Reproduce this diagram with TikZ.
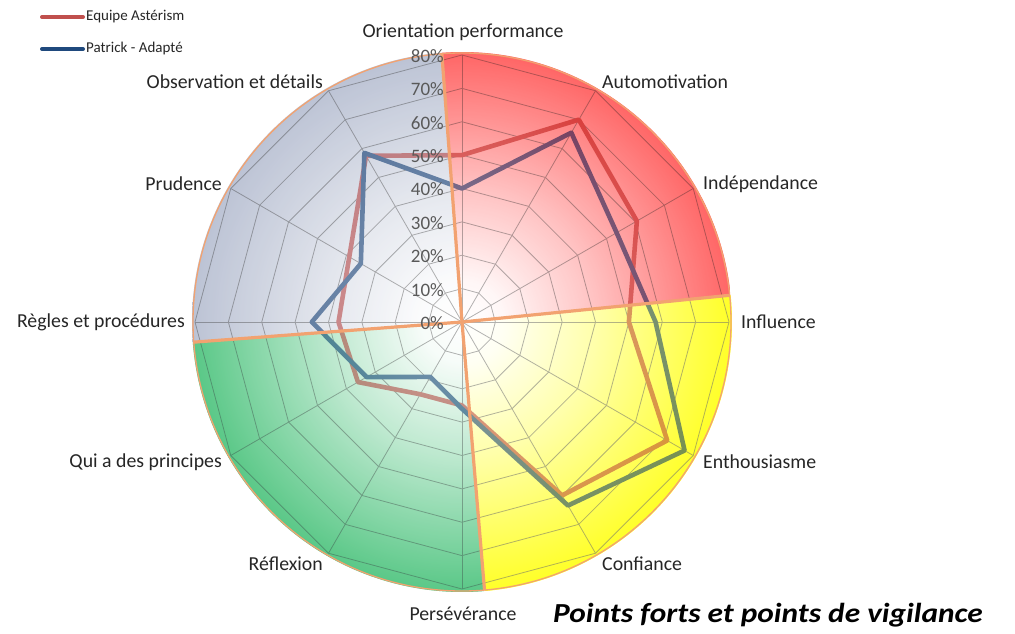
\documentclass[tikz,border=0pt]{standalone}
\usepackage{fontspec}
\setmainfont{Carlito}
\usetikzlibrary{calc}
\definecolor{serRed}{RGB}{192,80,77}
\definecolor{serBlue}{RGB}{31,73,125}
\definecolor{bndOrange}{RGB}{242,162,112}
\definecolor{gridGray}{RGB}{128,128,128}
\definecolor{pctGray}{RGB}{89,89,89}
\definecolor{lblGray}{RGB}{38,38,38}
% base colours (opaque layer)
\definecolor{bRed}{RGB}{255,170,170}
\definecolor{bYel}{RGB}{255,255,67}
\definecolor{bGrn}{RGB}{150,216,172}
\definecolor{bGry}{RGB}{214,219,231}
% overlay colours (translucent layer)
\definecolor{oRed}{RGB}{255,0,0}
\definecolor{oYel}{RGB}{255,255,0}
\definecolor{oGrn}{RGB}{0,176,80}
\definecolor{oGry}{RGB}{150,160,186}
\newcommand\mkshade[2]{%
  \colorlet{#1a}{#2!5!white}\colorlet{#1b}{#2!40!white}%
  \pgfdeclareradialshading{#1}{\pgfpoint{0bp}{0bp}}{color(0bp)=(white); color(3.75bp)=(#1a); color(12.5bp)=(#1b); color(25bp)=(#2); color(50bp)=(#2)}}
\mkshade{shbRed}{bRed}\mkshade{shbYel}{bYel}\mkshade{shbGrn}{bGrn}\mkshade{shbGry}{bGry}
\mkshade{shoRed}{oRed}\mkshade{shoYel}{oYel}\mkshade{shoGrn}{oGrn}\mkshade{shoGry}{oGry}
\newcommand\qsector[4]{% start, end, shading, options
  \begin{scope}
    \clip (C) -- ([shift={(C)}]#1:270) arc[start angle=#1,end angle=#2,radius=270] -- cycle;
    \shade[shading=#3,#4] (C) circle[radius=270];
  \end{scope}}
\tikzset{
  gridline/.style={draw=gridGray, line width=0.8pt},
  redser/.style={draw=serRed, line width=4.6pt, line join=round},
  blueser/.style={draw=serBlue, line width=4.6pt, line join=round},
  bound/.style={draw=bndOrange, line width=3.2pt},
  rim/.style={draw=bndOrange, line width=1.3pt},
  axlabel/.style={text=lblGray, font=\fontsize{19.8}{23}\selectfont, inner sep=0pt},
  pct/.style={text=pctGray, font=\fontsize{19}{22}\selectfont, inner sep=0pt},
  legtext/.style={text=lblGray, font=\fontsize{15}{17}\selectfont, inner sep=0pt},
  titletext/.style={text=black, font=\fontsize{27.5}{32}\selectfont\bfseries\itshape, inner sep=0pt},
}
\begin{document}
\begin{tikzpicture}[x=1pt,y=1pt]
\useasboundingbox (0,0) rectangle (1015,633);
\fill[white] (0,0) rectangle (1015,633);
\coordinate (C) at (462,311);
% base gradient sectors
\qsector{5.7}{94.3}{shbRed}{}
\qsector{94.3}{184.3}{shbGry}{}
\qsector{184.3}{274.8}{shbGrn}{}
\qsector{274.8}{365.7}{shbYel}{}
% grid
\foreach \k in {1,...,8} {
  \draw[gridline] ([shift={(C)}]0:{\k*33.375}) \foreach \a in {30,60,...,330} { -- ([shift={(C)}]\a:{\k*33.375}) } -- cycle;
}
\foreach \a in {0,30,...,330} \draw[gridline] (C) -- ([shift={(C)}]\a:267);
% data
\foreach \v [count=\i from 0] in {50,70,60.5,50,71,60,25,25,36,37,39,57.5}
  \coordinate (r\i) at ([shift={(C)}]{90-30*\i}:{\v*3.3375});
\foreach \v [count=\i from 0] in {40,65.5,53.5,58,77,63.5,26,19,33,45,35,58.5}
  \coordinate (b\i) at ([shift={(C)}]{90-30*\i}:{\v*3.3375});
\draw[redser] (r0) \foreach \i in {1,...,11} { -- (r\i) } -- cycle;
\draw[blueser] (b0) \foreach \i in {1,...,11} { -- (b\i) } -- cycle;
% translucent overlay
\qsector{5.7}{94.3}{shoRed}{fill opacity=0.4}
\qsector{94.3}{184.3}{shoGry}{fill opacity=0.4}
\qsector{184.3}{274.8}{shoGrn}{fill opacity=0.4}
\qsector{274.8}{365.7}{shoYel}{fill opacity=0.4}
% quadrant boundaries and rim
\foreach \a in {5.7,94.3,184.3,274.8} \draw[bound] (C) -- ([shift={(C)}]\a:269);
\draw[rim] (C) circle[radius=269];
% percentage labels
\foreach \k in {0,...,8} {
  \pgfmathtruncatemacro\pp{\k*10}
  \node[pct, anchor=east] (p\k) at ([shift={(C)}]-18,{\k*33.375-1}) {\pp\%};
}
% axis labels
\node[axlabel, anchor=center] (l0) at (463,601) {Orientation performance};
\node[axlabel, anchor=west] (l1) at (602,551) {Automotivation};
\node[axlabel, anchor=west] (l2) at (703,449) {Indépendance};
\node[axlabel, anchor=west] (l3) at (741,311) {Influence};
\node[axlabel, anchor=west] (l4) at (703,171) {Enthousiasme};
\node[axlabel, anchor=west] (l5) at (602,69) {Confiance};
\node[axlabel, anchor=center] (l6) at (463,19) {Persévérance};
\node[axlabel, anchor=east] (l7) at (323,69) {Réflexion};
\node[axlabel, anchor=east] (l8) at (222,171) {Qui a des principes};
\node[axlabel, anchor=east] (l9) at (185,311) {Règles et procédures};
\node[axlabel, anchor=east] (l10) at (222,449) {Prudence};
\node[axlabel, anchor=east] (l11) at (323,551) {Observation et détails};
% legend
\coordinate (lr1) at (42,616); \coordinate (lr2) at (83,616);
\coordinate (lb1) at (42,584); \coordinate (lb2) at (83,584);
\draw[draw=serRed, line width=4pt, line cap=round] (lr1) -- (lr2);
\draw[draw=serBlue, line width=4pt, line cap=round] (lb1) -- (lb2);
\node[legtext, anchor=west] (lt1) at (86,616) {Equipe Astérism};
\node[legtext, anchor=west] (lt2) at (86,584) {Patrick - Adapté};
% title
\node[titletext, anchor=base west] (title) at (553,11) {\scalebox{1.14}[1]{Points forts et points de vigilance}};
\end{tikzpicture}
\end{document}
